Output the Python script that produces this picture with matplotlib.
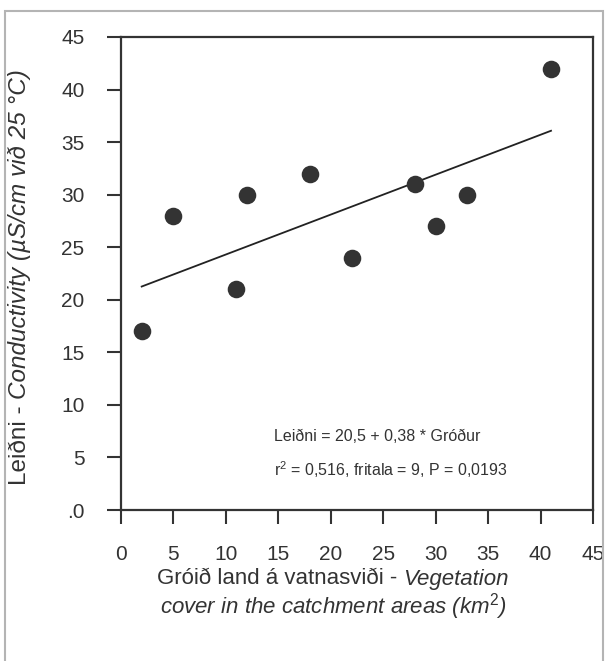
import matplotlib
matplotlib.use("Agg")
import matplotlib.pyplot as plt
from matplotlib.patches import Rectangle
import numpy as np

plt.rcParams['font.family'] = ['Liberation Sans', 'DejaVu Sans']
plt.rcParams['mathtext.fontset'] = 'custom'
plt.rcParams['mathtext.rm'] = 'Liberation Sans'
plt.rcParams['mathtext.it'] = 'Liberation Sans:italic'

# Data
vegetation = [2, 5, 11, 12, 18, 22, 28, 30, 33, 41]
conductivity = [17, 28, 21, 30, 32, 24, 31, 27, 30, 42]
intercept = 20.5
slope = 0.38
x_ticks = [0, 5, 10, 15, 20, 25, 30, 35, 40, 45]
y_ticks = [0, 5, 10, 15, 20, 25, 30, 35, 40, 45]
y_tick_labels = ['.0', '5', '10', '15', '20', '25', '30', '35', '40', '45']

W, H = 611, 661
fig = plt.figure(figsize=(W / 100, H / 100), dpi=100)
fig.patch.set_facecolor('white')

# outer frame
fig.add_artist(Rectangle((5 / W, -0.05), (603 - 5) / W, 1.05 - 11 / H,
                         transform=fig.transFigure, fill=False,
                         edgecolor='#b4b4b4', linewidth=1.5))

ax = fig.add_axes([120.7 / W, 1 - 510 / H, (593 - 120.7) / W, (510 - 37) / H])
dark = '#333333'
ax.scatter(vegetation, conductivity, s=160, color=dark, zorder=3, linewidths=0)
xs = np.array([min(vegetation), max(vegetation)])
ax.plot(xs, intercept + slope * xs, color='#222222', linewidth=1.3, zorder=2)

ax.set_xlim(0, 45)
ax.set_ylim(0, 45)
ax.set_xticks(x_ticks)
ax.set_yticks(y_ticks)
ax.set_yticklabels(y_tick_labels)
ax.tick_params(axis='both', direction='out', length=10, width=1.5, color=dark,
               labelsize=15, labelcolor=dark)
ax.tick_params(axis='y', pad=16)
ax.tick_params(axis='x', pad=15)
for sp in ax.spines.values():
    sp.set_linewidth(1.6)
    sp.set_color(dark)

ax.text(0.325, 0.155, 'Leiðni = 20,5 + 0,38 * Gróður', transform=ax.transAxes,
        fontsize=11.5, color=dark, va='center', ha='left')
ax.text(0.325, 0.085, 'r$^{2}$ = 0,516, fritala = 9, P = 0,0193', transform=ax.transAxes,
        fontsize=11.5, color=dark, va='center', ha='left')

fig.canvas.draw()
r = fig.canvas.get_renderer()

# x label line 1 (mixed style), centered
cx = 333 / W
y1 = 1 - 579 / H
t1 = fig.text(0, y1, 'Gróið land á vatnasviði - ', fontsize=16, color=dark,
              ha='left', va='center')
t2 = fig.text(0, y1, 'Vegetation', fontsize=16, color=dark, style='italic',
              ha='left', va='center')
w1 = t1.get_window_extent(r).width / W
w2 = t2.get_window_extent(r).width / W
x0 = cx - (w1 + w2) / 2
t1.set_x(x0)
t2.set_x(x0 + w1)
fig.text(cx, 1 - 607 / H, 'cover in the catchment areas (km$^{2}$)', fontsize=16,
         color=dark, style='italic', ha='center', va='center')

# y label (mixed style), rotated
cy = 277 / H
yx = 20 / W
s1 = fig.text(yx, 0, 'Leiðni - ', fontsize=17.5, color=dark, rotation=90,
              ha='center', va='bottom')
s2 = fig.text(yx, 0, 'Conductivity (µS/cm við 25 °C)', fontsize=17.5, color=dark,
              style='italic', rotation=90, ha='center', va='bottom')
h1 = s1.get_window_extent(r).height / H
h2 = s2.get_window_extent(r).height / H
y0 = (1 - cy) - (h1 + h2) / 2
s1.set_y(y0)
s2.set_y(y0 + h1)

fig.savefig('out.png', dpi=100, facecolor='white')
